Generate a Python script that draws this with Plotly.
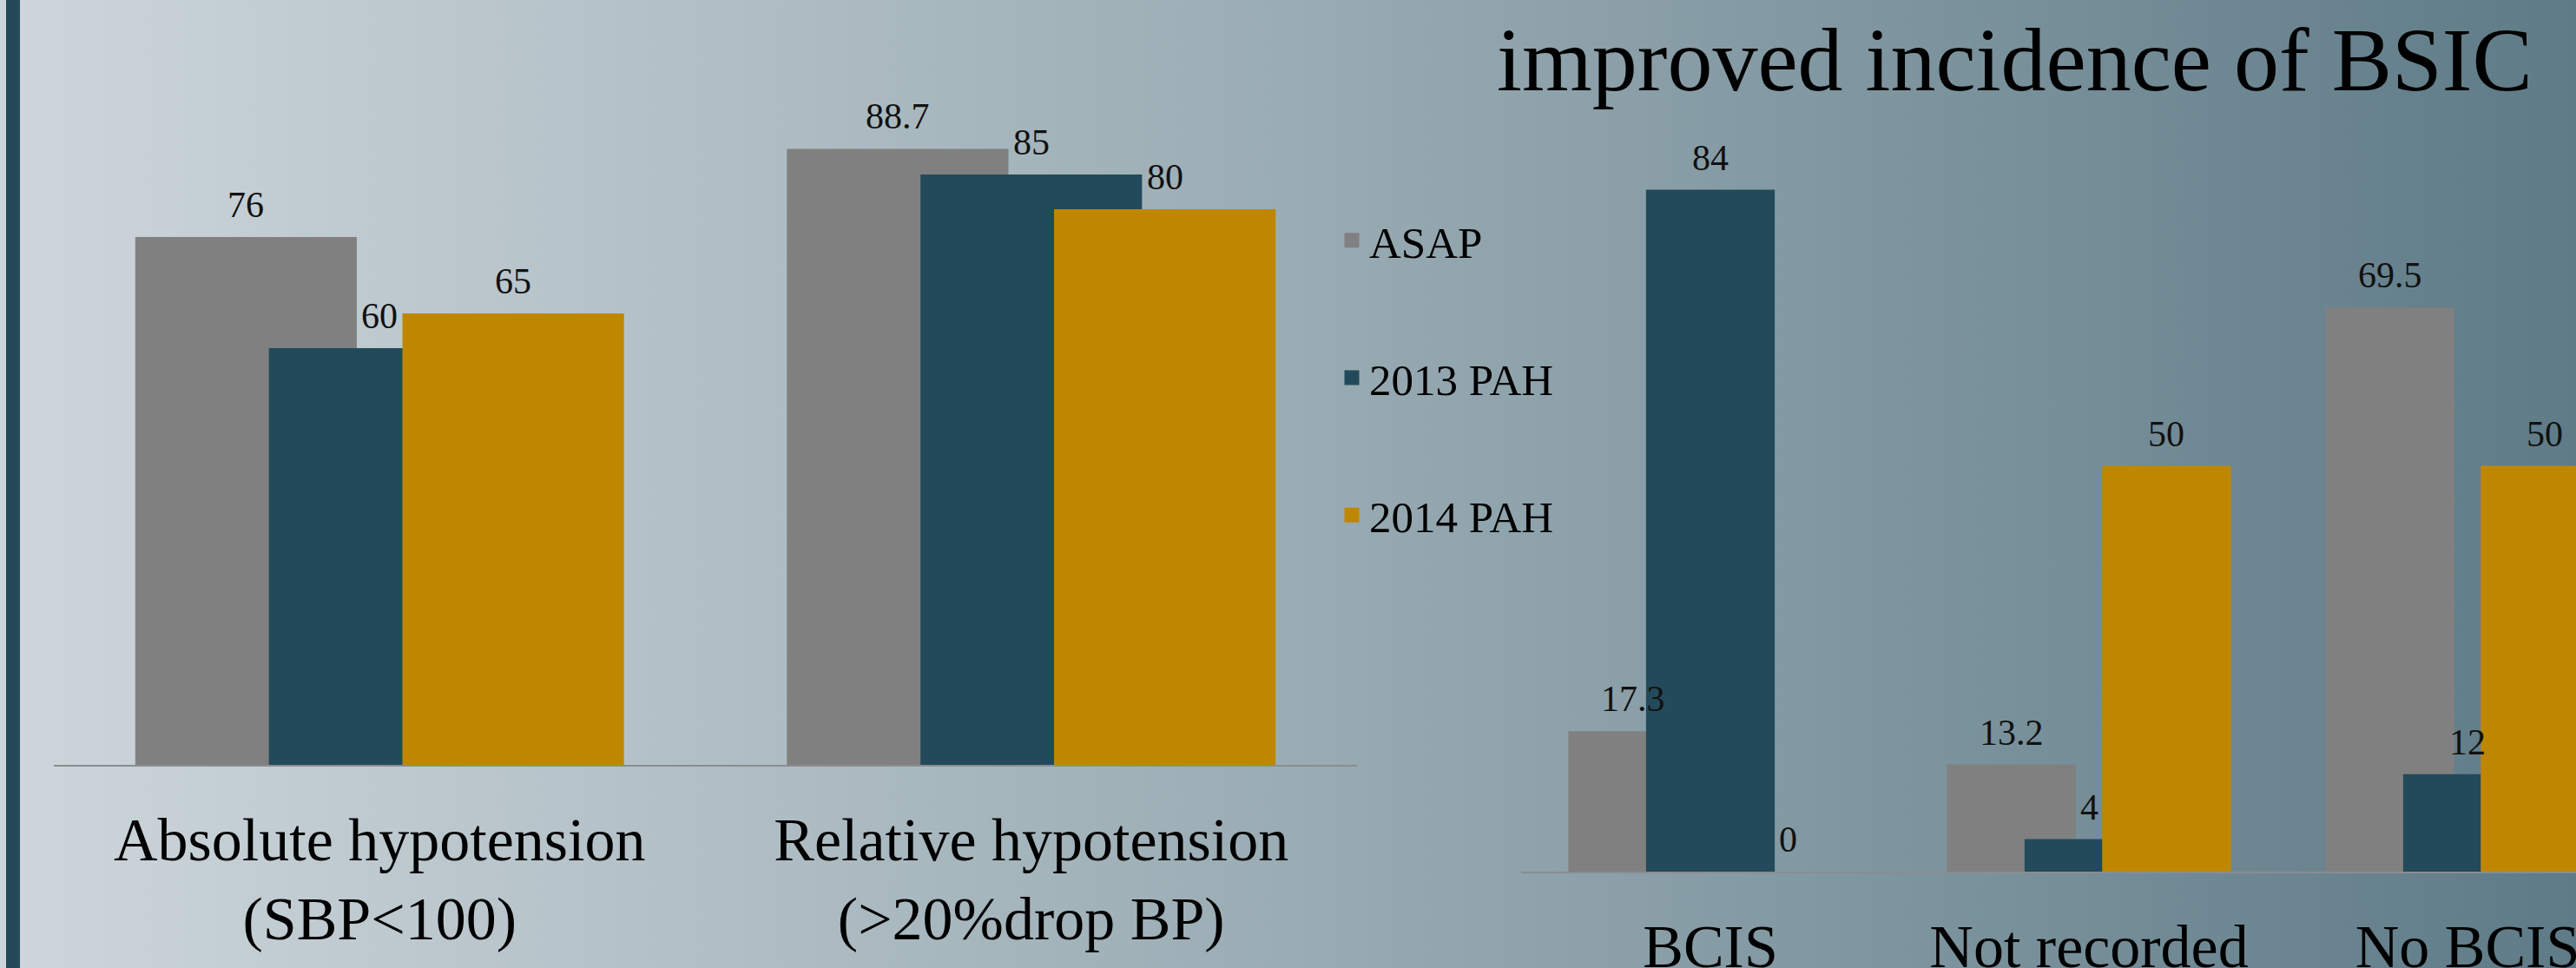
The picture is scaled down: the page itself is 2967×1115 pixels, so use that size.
import base64
import plotly.graph_objects as go

# ---------------- data ----------------
series_names = ["ASAP", "2013 PAH", "2014 PAH"]
series_colors = ["#808080", "#234a5a", "#bf8700"]

left_categories = ["Absolute hypotension<br>(SBP&lt;100)", "Relative hypotension<br>(&gt;20%drop BP)"]
left_asap = [76, 88.7]
left_2013 = [60, 85]
left_2014 = [65, 80]

right_categories = ["BCIS", "Not recorded", "No BCIS"]
right_asap = [17.3, 13.2, 69.5]
right_2013 = [84, 4, 12]
right_2014 = [0, 50, 50]

title_text = "improved incidence of BSIC"

# ---------------- layout constants ----------------
W, H = 2967, 1115
FONT = "Liberation Serif"
BAR_W = 0.34
STEP = 0.205
TOTAL = 2 * STEP + BAR_W

fig = go.Figure()

left_vals = [left_asap, left_2013, left_2014]
right_vals = [right_asap, right_2013, right_2014]

annotations = []
for i, name in enumerate(series_names):
    off = -TOTAL / 2 + i * STEP
    fig.add_trace(go.Bar(
        x=left_categories, y=left_vals[i], name=name,
        marker=dict(color=series_colors[i], line=dict(width=0)),
        offset=off, width=BAR_W, xaxis="x", yaxis="y",
        legendgroup=name, showlegend=False, hoverinfo="skip",
    ))
    fig.add_trace(go.Bar(
        x=right_categories, y=right_vals[i], name=name,
        marker=dict(color=series_colors[i], line=dict(width=0)),
        offset=off, width=BAR_W, xaxis="x2", yaxis="y2",
        legendgroup=name, showlegend=False, hoverinfo="skip",
    ))
    # legend entry (larger swatch via outline of the same colour)
    fig.add_trace(go.Bar(
        x=[None], y=[None], name=name,
        marker=dict(color=series_colors[i], line=dict(width=15, color=series_colors[i])),
        xaxis="x", yaxis="y", legendgroup=name, showlegend=True, hoverinfo="skip",
    ))
    for j, v in enumerate(left_vals[i]):
        annotations.append(dict(
            x=j + off + BAR_W / 2, y=v, xref="x", yref="y", text=f"{v:g}",
            showarrow=False, yanchor="middle", yshift=37,
            font=dict(family=FONT, size=42, color="#111111")))
    for j, v in enumerate(right_vals[i]):
        annotations.append(dict(
            x=j + off + BAR_W / 2, y=v, xref="x2", yref="y2", text=f"{v:g}",
            showarrow=False, yanchor="middle", yshift=37,
            font=dict(family=FONT, size=42, color="#111111")))

annotations.append(dict(
    x=2320 / W, y=1 - 69 / H, xref="paper", yref="paper", text=title_text,
    showarrow=False, xanchor="center", yanchor="middle",
    font=dict(family=FONT, size=104, color="#000000")))

svg = (
    f'<svg xmlns="http://www.w3.org/2000/svg" width="{W}" height="{H}" '
    f'viewBox="0 0 {W} {H}" preserveAspectRatio="none">'
    '<defs><linearGradient id="g" x1="0" y1="0" x2="1" y2="0">'
    '<stop offset="0" stop-color="#cdd6db"/>'
    '<stop offset="0.5" stop-color="#9aacb4"/>'
    '<stop offset="1" stop-color="#5e7b87"/>'
    '</linearGradient></defs>'
    f'<rect x="0" y="0" width="{W}" height="{H}" fill="url(#g)"/></svg>'
)
bg_src = "data:image/svg+xml;base64," + base64.b64encode(svg.encode()).decode()

axis_common = dict(type="category", showline=True, linecolor="#8a8d90", linewidth=2,
                   ticks="", showgrid=False, zeroline=False, fixedrange=True,
                   automargin=False, ticklabelstandoff=24,
                   tickfont=dict(family=FONT, size=70, color="#000000"))

fig.update_layout(
    width=W, height=H,
    margin=dict(l=0, r=0, t=0, b=0, pad=0, autoexpand=False),
    paper_bgcolor="#9aacb4",
    plot_bgcolor="rgba(0,0,0,0)",
    barmode="overlay",
    showlegend=True,
    hovermode=False,
    legend=dict(x=1537 / W, y=1 - 237 / H, xanchor="left", yanchor="top",
                bgcolor="rgba(0,0,0,0)", borderwidth=0,
                font=dict(family=FONT, size=51, color="#000000"),
                traceorder="grouped", tracegroupgap=89, itemclick=False,
                itemdoubleclick=False),
    xaxis=dict(domain=[62 / W, 1563 / W], range=[-0.5, 1.5], anchor="y", **axis_common),
    yaxis=dict(domain=[(H - 881) / H, (H - 81) / H], range=[0, 100], visible=False,
               automargin=False, fixedrange=True),
    xaxis2=dict(domain=[1752 / W, 1.0], range=[-0.5, -0.5 + (W - 1752) / 436],
                anchor="y2", **axis_common),
    yaxis2=dict(domain=[(H - 1004) / H, (H - 162.5) / H], range=[0, 90], visible=False,
                automargin=False, fixedrange=True),
    annotations=annotations,
    images=[dict(source=bg_src, xref="paper", yref="paper", x=0, y=1, sizex=1, sizey=1,
                 sizing="stretch", xanchor="left", yanchor="top", layer="below")],
    shapes=[dict(type="rect", xref="paper", yref="paper", x0=7 / W, x1=23 / W, y0=0, y1=1,
                 fillcolor="#244a5a", line=dict(width=0), layer="above")],
)

fig.write_html(
    "out.html",
    config={"displayModeBar": False},
    post_script="document.body.style.margin='0px';",
)
